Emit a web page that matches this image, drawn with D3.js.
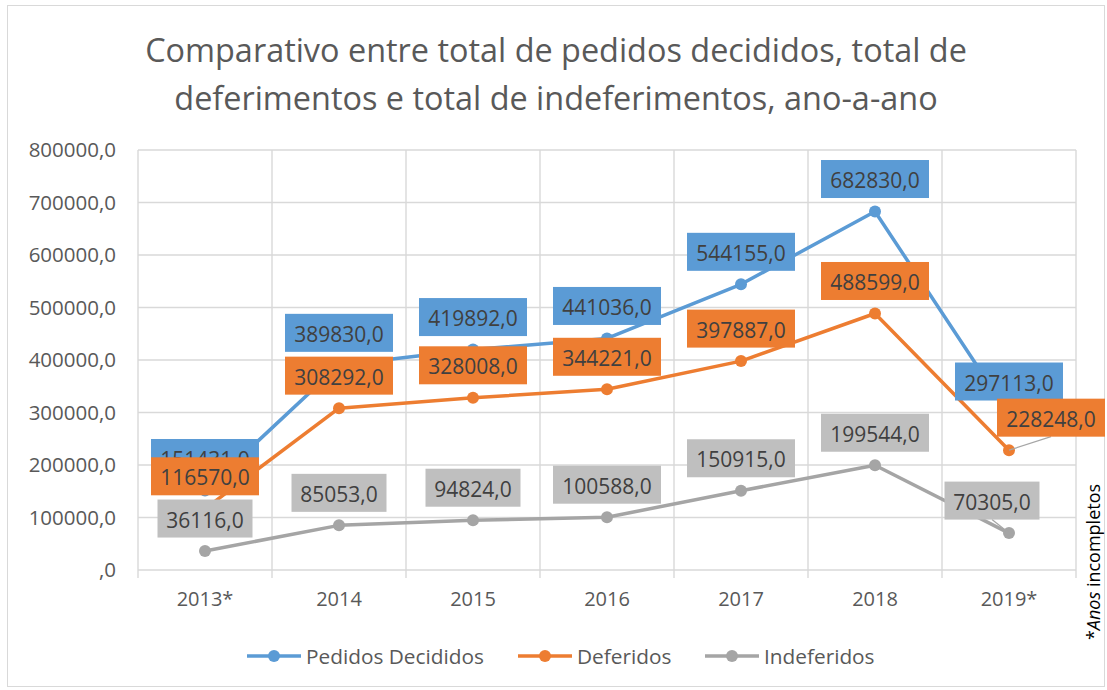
<!DOCTYPE html>
<html>
<head>
<meta charset="utf-8">
<script src="https://cdn.jsdelivr.net/npm/d3@7"></script>
<style>
  body { margin: 0; background: #fff; }
  svg { display: block; font-family: 'Open Sans', sans-serif; }
</style>
</head>
<body>
<div id="chart"></div>
<script>
// data
const years = ['2013*', '2014', '2015', '2016', '2017', '2018', '2019*'];
const pedidos = [151431, 389830, 419892, 441036, 544155, 682830, 297113];
const deferidos = [116570, 308292, 328008, 344221, 397887, 488599, 228248];
const indeferidos = [36116, 85053, 94824, 100588, 150915, 199544, 70305];
const yTicks = [0, 100000, 200000, 300000, 400000, 500000, 600000, 700000, 800000];
const seriesNames = ['Pedidos Decididos', 'Deferidos', 'Indeferidos'];

var W = 1107, H = 690;
var plot = {left: 138, right: 1076, top: 150, bottom: 570};

const svg = d3.select('#chart')
    .append('svg')
    .attr('width', W)
    .attr('height', H);

// chart border
svg.append('rect')
    .attr('x', 7.5).attr('y', 5.5)
    .attr('width', 1097).attr('height', 681)
    .attr('fill', '#fff')
    .attr('stroke', '#d9d9d9');

// fit a text element to a target width
function fitText(sel, target) {
    var w = sel.node().getComputedTextLength();
    var fs = parseFloat(sel.attr('font-size'));
    sel.attr('font-size', (fs * target / w).toFixed(2));
}

// title
var t1 = svg.append('text')
    .attr('x', 556).attr('y', 62)
    .attr('text-anchor', 'middle')
    .attr('font-size', 30)
    .attr('fill', '#595959')
    .text('Comparativo entre total de pedidos decididos, total de');
fitText(t1, 822);
svg.append('text')
    .attr('x', 556).attr('y', 110)
    .attr('text-anchor', 'middle')
    .attr('font-size', t1.attr('font-size'))
    .attr('fill', '#595959')
    .text('deferimentos e total de indeferimentos, ano-a-ano');

const x = d3.scaleBand().domain(years).range([plot.left, plot.right]);
const y = d3.scaleLinear().domain([0, 800000]).range([plot.bottom, plot.top]);

// grid
const grid = svg.append('g').attr('stroke', '#d9d9d9').attr('stroke-width', 1.4);
grid.selectAll('.hg')
    .data(yTicks)
    .enter().append('line')
    .attr('x1', plot.left).attr('x2', plot.right)
    .attr('y1', d => y(d)).attr('y2', d => y(d));

var bounds = years.map(d => x(d)).concat([plot.right]);
grid.selectAll('.vg')
    .data(bounds)
    .enter().append('line')
    .attr('x1', d => d).attr('x2', d => d)
    .attr('y1', plot.top).attr('y2', plot.bottom + 8);

// y axis labels
const yAxis = d3.axisLeft(y)
    .tickValues(yTicks)
    .tickSize(0)
    .tickPadding(0)
    .tickFormat(d => (d === 0 ? '' : d) + ',0');
svg.append('g')
    .attr('transform', 'translate(116,0)')
    .call(yAxis)
    .call(g => g.select('.domain').remove())
    .selectAll('text')
    .attr('font-family', "'Open Sans', sans-serif")
    .attr('font-size', 20.5)
    .attr('fill', '#595959');

// x axis labels
const xAxis = d3.axisBottom(x).tickSize(0).tickPadding(0);
svg.append('g')
    .attr('transform', 'translate(0,' + (plot.bottom + 22) + ')')
    .call(xAxis)
    .call(g => g.select('.domain').remove())
    .selectAll('text')
    .attr('font-family', "'Open Sans', sans-serif")
    .attr('font-size', 20)
    .attr('fill', '#595959');

var series = [
    {name: seriesNames[0], values: pedidos, color: '#5b9bd5', box: '#5b9bd5', shift: {}},
    {name: seriesNames[1], values: deferidos, color: '#ed7d31', box: '#ed7d31', shift: {6: 42}},
    {name: seriesNames[2], values: indeferidos, color: '#a5a5a5', box: '#bfbfbf', shift: {6: -17}}
];

var cx = d => x(d) + x.bandwidth() / 2;

const line = d3.line()
    .x((d, i) => cx(years[i]))
    .y(d => y(d));

// lines + markers
series.forEach(s => {
    const g = svg.append('g');
    g.append('path')
        .datum(s.values)
        .attr('fill', 'none')
        .attr('stroke', s.color)
        .attr('stroke-width', 3.5)
        .attr('stroke-linejoin', 'round')
        .attr('d', line);
    g.selectAll('circle')
        .data(s.values)
        .enter().append('circle')
        .attr('cx', (d, i) => cx(years[i]))
        .attr('cy', d => y(d))
        .attr('r', 6)
        .attr('fill', s.color);
});

// data labels (drawn after all lines so they sit on top)
series.forEach(s => {
    const g = svg.append('g');
    s.values.forEach((v, i) => {
        var px = cx(years[i]), py = y(v);
        var lx = px + (s.shift[i] || 0);
        var txt = v + ',0';
        var bw = txt.length > 7 ? 108 : 95;
        var bh = 38;
        var by = py - 13.5 - bh;
        if (s.shift[i]) {
            g.append('line')
                .attr('x1', px).attr('y1', py)
                .attr('x2', lx).attr('y2', by + bh)
                .attr('stroke', '#a6a6a6')
                .attr('stroke-width', 1.2);
        }
        g.append('rect')
            .attr('x', lx - bw / 2).attr('y', by)
            .attr('width', bw).attr('height', bh)
            .attr('fill', s.box);
        g.append('text')
            .attr('x', lx).attr('y', by + bh / 2 + 1)
            .attr('text-anchor', 'middle')
            .attr('dominant-baseline', 'central')
            .attr('font-size', 21)
            .attr('fill', '#404040')
            .text(txt);
    });
});

// note on the right
var note = svg.append('text')
    .attr('transform', 'translate(1100,562) rotate(-90)')
    .attr('text-anchor', 'middle')
    .attr('font-size', 18)
    .attr('fill', '#000');
note.append('tspan').text('*');
note.append('tspan').attr('font-style', 'italic').text('Anos');
note.append('tspan').text(' incompletos');

// legend
var legendX = [247, 518, 705];
const legend = svg.append('g');
series.forEach((s, i) => {
    const lg = legend.append('g').attr('transform', 'translate(' + legendX[i] + ',656)');
    lg.append('line')
        .attr('x1', 0).attr('x2', 54)
        .attr('stroke', s.color).attr('stroke-width', 3.5);
    lg.append('circle').attr('cx', 27).attr('r', 6).attr('fill', s.color);
    lg.append('text')
        .attr('x', 59)
        .attr('dominant-baseline', 'central')
        .attr('font-size', 20.8)
        .attr('fill', '#595959')
        .text(s.name);
});
</script>
</body>
</html>
